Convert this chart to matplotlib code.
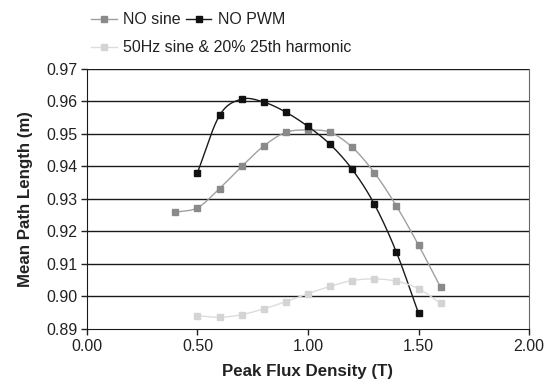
import numpy as np
import matplotlib.pyplot as plt

plt.rcParams['font.family'] = ['Liberation Sans', 'DejaVu Sans']

flux_sine = [0.4, 0.5, 0.6, 0.7, 0.8, 0.9, 1.0, 1.1, 1.2, 1.3, 1.4, 1.5, 1.6]
mpl_sine = [0.9259, 0.9273, 0.9332, 0.9400, 0.9463, 0.9505, 0.9512, 0.9505,
            0.9459, 0.9381, 0.9278, 0.9158, 0.9028]

flux_pwm = [0.5, 0.6, 0.7, 0.8, 0.9, 1.0, 1.1, 1.2, 1.3, 1.4, 1.5]
mpl_pwm = [0.9381, 0.9557, 0.9607, 0.9598, 0.9567, 0.9523, 0.9468, 0.9391,
           0.9284, 0.9136, 0.8948]

flux_harm = [0.5, 0.6, 0.7, 0.8, 0.9, 1.0, 1.1, 1.2, 1.3, 1.4, 1.5, 1.6]
mpl_harm = [0.8941, 0.8936, 0.8944, 0.8962, 0.8984, 0.9009, 0.9031, 0.9049,
            0.9054, 0.9047, 0.9024, 0.8979]

labels = ['NO sine', 'NO PWM', '50Hz sine & 20% 25th harmonic']


def smooth(x, y, n=20):
    # catmull-rom curve through the points, like excel's smoothed line
    x = np.asarray(x, float)
    y = np.asarray(y, float)
    px = np.concatenate([[2 * x[0] - x[1]], x, [2 * x[-1] - x[-2]]])
    py = np.concatenate([[2 * y[0] - y[1]], y, [2 * y[-1] - y[-2]]])
    t = np.linspace(0, 1, n)
    xs, ys = [], []
    for i in range(1, len(px) - 2):
        for p, out in ((px, xs), (py, ys)):
            p0, p1, p2, p3 = p[i - 1], p[i], p[i + 1], p[i + 2]
            out.append(0.5 * (2 * p1 + (-p0 + p2) * t
                              + (2 * p0 - 5 * p1 + 4 * p2 - p3) * t ** 2
                              + (-p0 + 3 * p1 - 3 * p2 + p3) * t ** 3))
    return np.concatenate(xs), np.concatenate(ys)


fig = plt.figure(figsize=(5.5, 3.83), dpi=100)
ax = fig.add_axes([0.158, 0.141, 0.804, 0.679])

for yv in np.arange(0.90, 0.975, 0.01):
    ax.axhline(yv, color='#1a1a1a', lw=1.0, zorder=1)

series = [(flux_sine, mpl_sine, '#a0a0a0', '#8a8a8a'),
          (flux_pwm, mpl_pwm, '#1a1a1a', '#111111'),
          (flux_harm, mpl_harm, '#dcdcdc', '#d4d4d4')]
handles = []
for (x, y, lc, mc), lab in zip(series, labels):
    sx, sy = smooth(x, y)
    ax.plot(sx, sy, color=lc, lw=1.0, zorder=2)
    ax.plot(x, y, 's', color=mc, ms=5, zorder=3)
    h, = ax.plot([], [], '-s', color=lc, mfc=mc, mec=mc, ms=4, lw=1.0, label=lab)
    handles.append(h)

ax.set_xlim(0, 2.0)
ax.set_ylim(0.89, 0.97)
ax.set_xticks([0.0, 0.5, 1.0, 1.5, 2.0])
ax.set_xticklabels(['0.00', '0.50', '1.00', '1.50', '2.00'])
ax.set_yticks(np.arange(0.89, 0.975, 0.01))
ax.set_yticklabels(['%.2f' % v for v in np.arange(0.89, 0.975, 0.01)])
ax.tick_params(labelsize=11.5, colors='#222222', length=4, width=1)
ax.tick_params(axis='y', pad=3)
ax.spines['top'].set_visible(False)
ax.spines['right'].set_color('#666666')
ax.spines['left'].set_color('#1a1a1a')
ax.spines['bottom'].set_color('#1a1a1a')

ax.set_xlabel('Peak Flux Density (T)', fontsize=12.2, fontweight='bold', color='#222222', labelpad=7)
ax.set_ylabel('Mean Path Length (m)', fontsize=12.2, fontweight='bold', color='#222222', labelpad=9)

fig.legend(handles=handles[:2], loc='upper left', bbox_to_anchor=(0.14, 1.005),
           ncol=2, frameon=False, fontsize=11.5, handlelength=1.6,
           handletextpad=0.4, columnspacing=0.3, labelcolor='#222222')
fig.legend(handles=handles[2:], loc='upper left', bbox_to_anchor=(0.14, 0.932),
           frameon=False, fontsize=11.5, handlelength=1.6, handletextpad=0.4,
           labelcolor='#222222')

fig.savefig('out.png', dpi=100)
plt.close()
